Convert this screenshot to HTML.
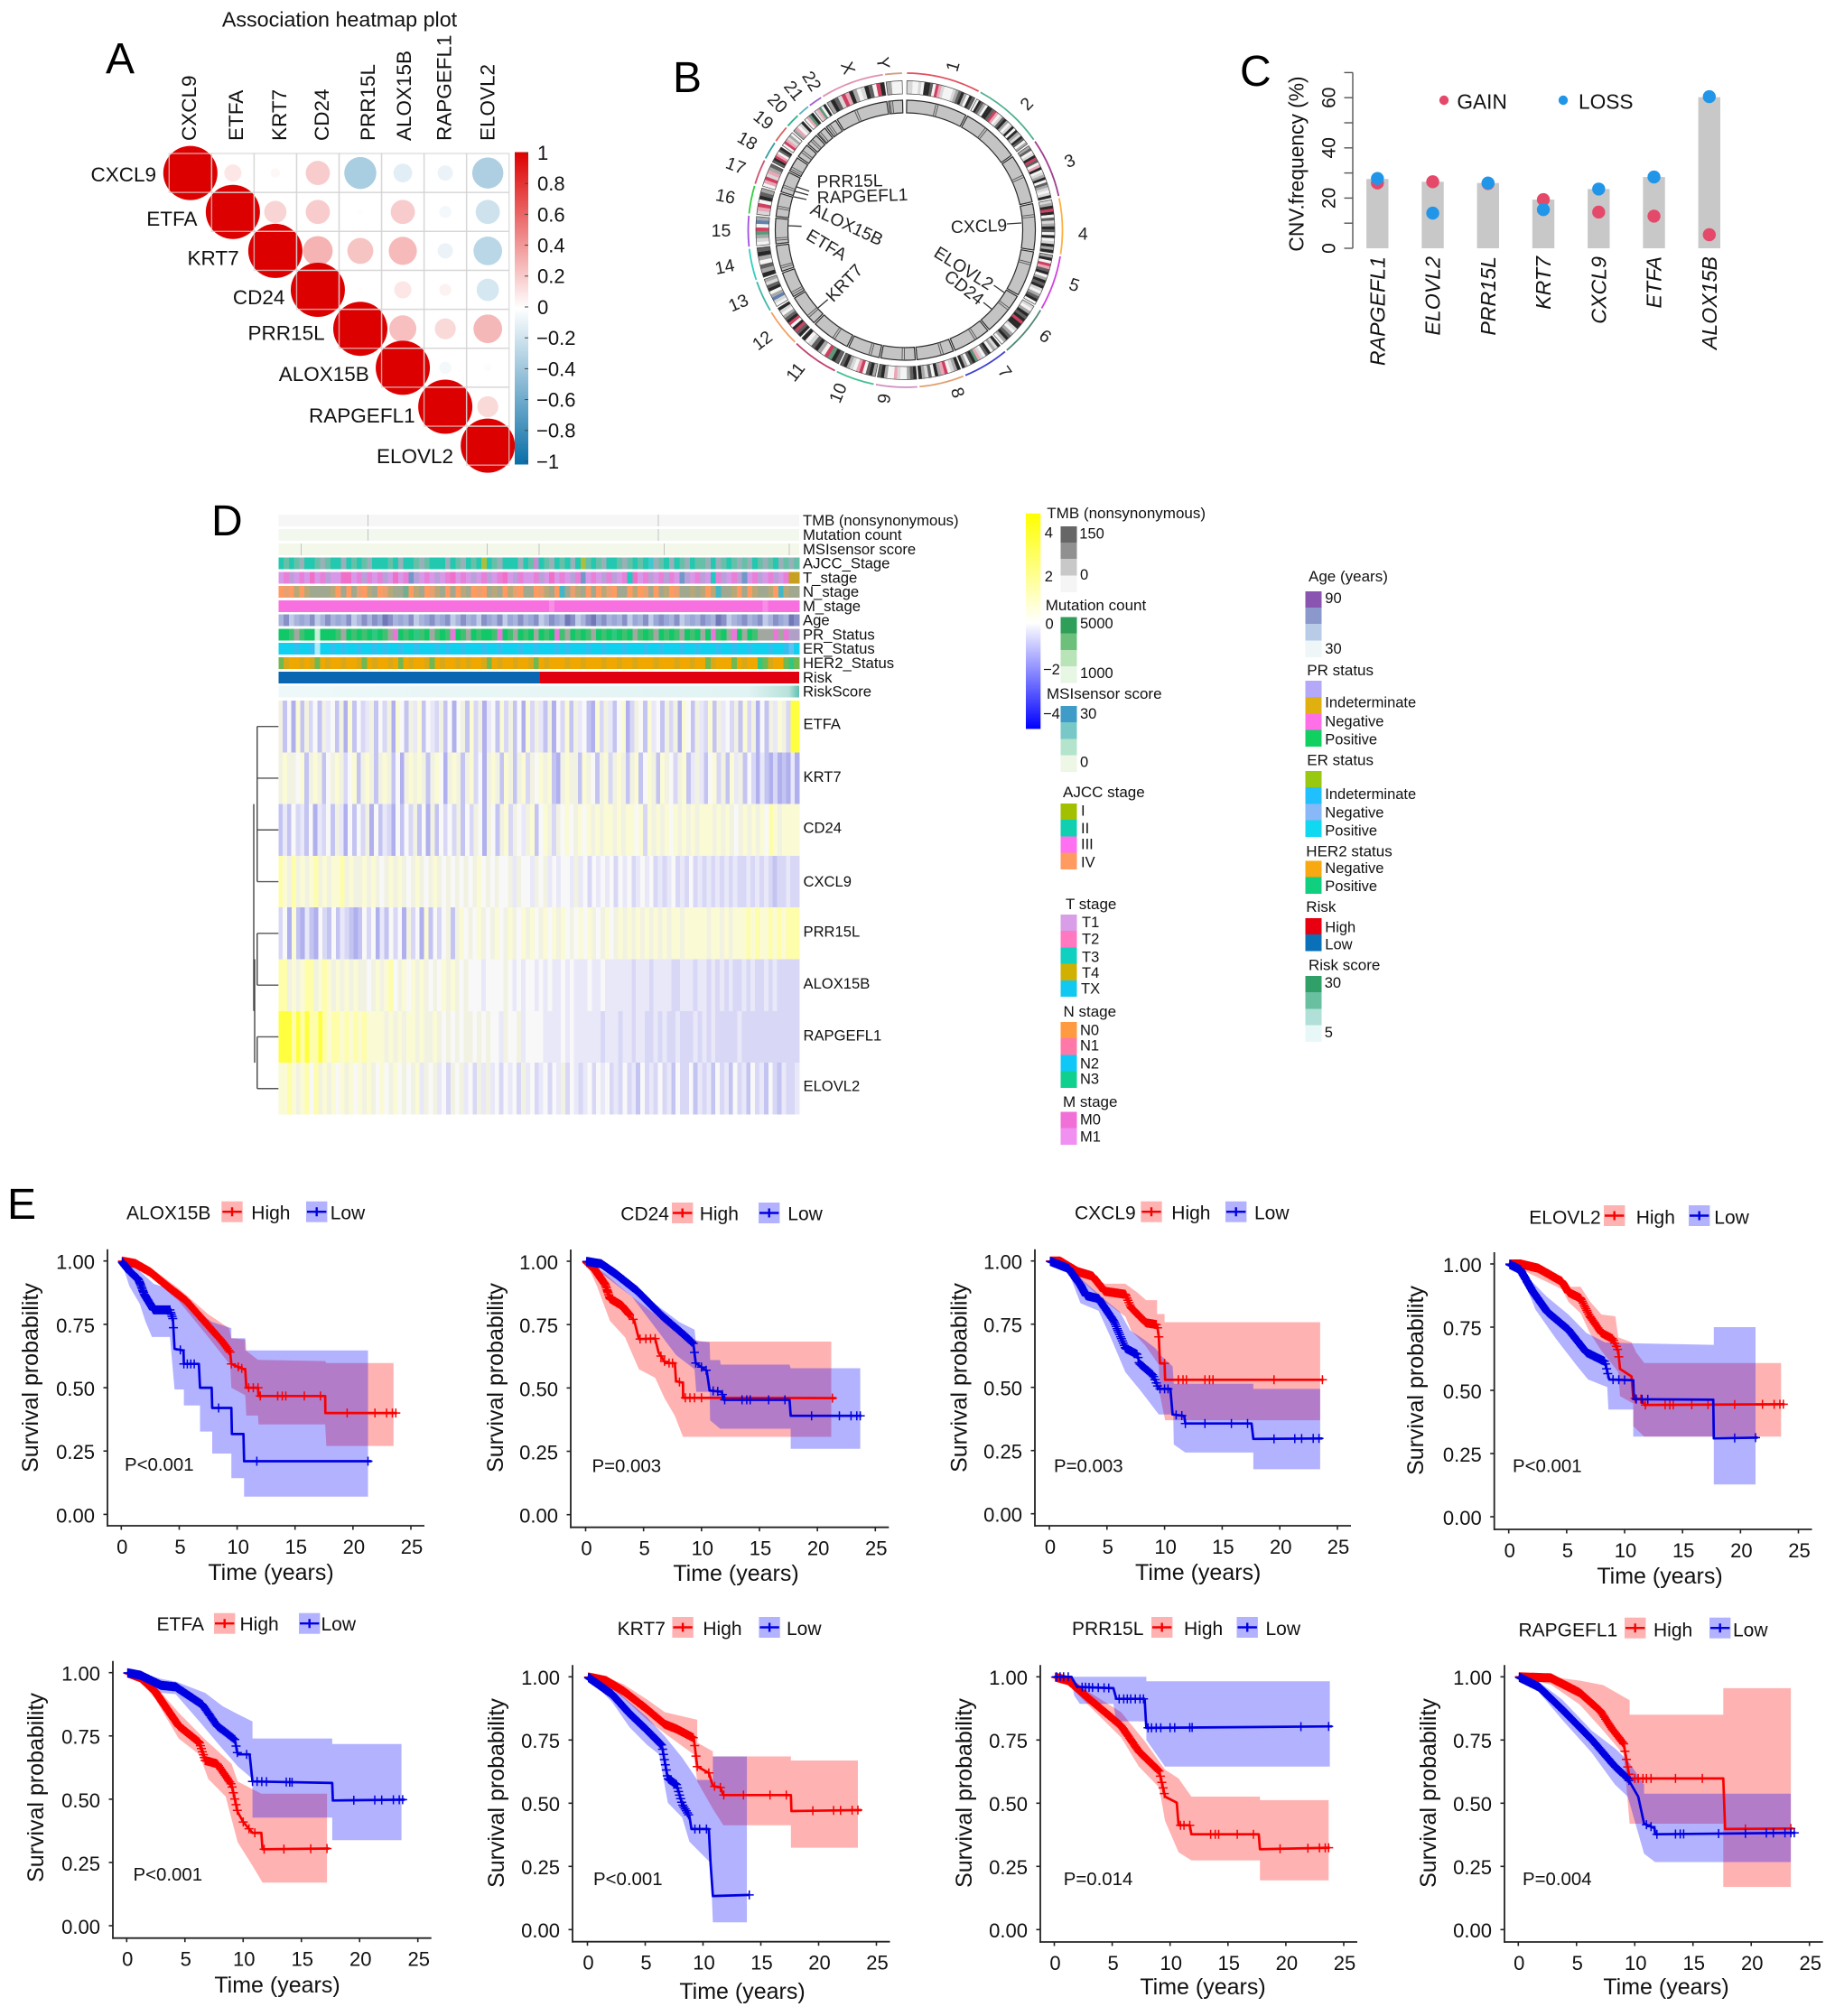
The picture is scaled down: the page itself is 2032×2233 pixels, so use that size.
<!DOCTYPE html>
<html>
<head>
<meta charset="utf-8">
<title>Gene signature multi-panel figure</title>
<style>
html,body{margin:0;padding:0;background:#fff}
svg{display:block;font-family:"Liberation Sans",sans-serif}
</style>
</head>
<body>
<svg id="figure" xmlns="http://www.w3.org/2000/svg" width="2032" height="2233" viewBox="0 0 2032 2233">
  <rect width="2032" height="2233" fill="#fff"/>
  <defs>
    <linearGradient id="corrGradient" x1="0" y1="0" x2="0" y2="1">
      <stop offset="0" stop-color="#dd0000"/><stop offset="0.5" stop-color="#ffffff"/><stop offset="1" stop-color="#0a6fa8"/>
    </linearGradient>
    <linearGradient id="exprGradient" x1="0" y1="0" x2="0" y2="1">
      <stop offset="0" stop-color="#ffff00"/><stop offset="0.508" stop-color="#ffffff"/><stop offset="1" stop-color="#0000ff"/>
    </linearGradient>
    <linearGradient id="riskScoreGradient" x1="0" y1="0" x2="1" y2="0">
      <stop offset="0" stop-color="#eef8f8"/><stop offset="0.9" stop-color="#e2f3f3"/><stop offset="0.98" stop-color="#b8e2da"/><stop offset="1" stop-color="#60c0b0"/>
    </linearGradient>
  </defs>
  <text x="117" y="81" font-size="48" fill="#000">A</text>
  <text x="745" y="102" font-size="48" fill="#000">B</text>
  <text x="1373" y="95" font-size="48" fill="#000">C</text>
  <text x="234" y="593" font-size="48" fill="#000">D</text>
  <text x="8" y="1350" font-size="48" fill="#000">E</text>
</svg>
<script>
/* ---------- Panel A data ---------- */
const corrGenes = ['CXCL9','ETFA','KRT7','CD24','PRR15L','ALOX15B','RAPGEFL1','ELOVL2'];
const corrRow0 = [1,0.10,0.03,0.20,-0.35,-0.12,-0.08,-0.33];
const corrRow1 = [1,0.17,0.20,0.01,0.20,-0.05,-0.20];
const corrRow2 = [1,0.30,0.23,0.27,-0.08,-0.28];
const corrRow3 = [1,0.01,0.10,0.05,-0.17];
const corrRow4 = [1,0.25,0.15,0.28];
const corrRow5 = [1,-0.05,-0.02];
const corrRow6 = [1,0.15];
const corrRow7 = [1];
const corrBarTicks = ['1','0.8','0.6','0.4','0.2','0','\u22120.2','\u22120.4','\u22120.6','\u22120.8','\u22121'];

/* ---------- Panel B data ---------- */
const chrNames = ['1','2','3','4','5','6','7','8','9','10','11','12','13','14','15','16','17','18','19','20','21','22','X','Y'];
const chrEndAngles = [28,55,77.6,99,120,140,157.7,175,191,206,224,238.7,251,263.4,275.5,286.6,296.6,304,311,317,322,327.8,352,359];
const chrLabelAngles = [16,43.7,67,91,107.8,127,144.8,162,187.3,202.6,217.9,232.5,246.6,258.7,270,280.8,291,299.7,308,315,321.5,328,340.7,352.6];
const chrLabelRadii = [189,194,197.6,196.8,196.7,194.5,191.8,189,188,195,198.6,200,201.6,204,204,202.6,201,201,199,199.6,197.8,195,190.6,187];
const chrCentromeres = [.5,.38,.45,.26,.27,.35,.38,.31,.35,.3,.4,.27,.14,.16,.18,.4,.29,.22,.45,.44,.25,.3,.39,.2];
const chrArcColors = ['#e05060','#50b090','#a04090','#ffb040','#d040e0','#508870','#4040d0','#e0a070','#d090c0','#40c090','#c04070','#f0a060','#40b8a8','#30d0c0','#a050e0','#30d040','#d05070','#30a0a0','#d86060','#30b090','#60b0c0','#a060d0','#e090b0','#d0a080'];
const chrBands = ['llwwlwkkdwrplwwwlmdkmwkd','wkdmwkkdrpwldkmwlkwkmlkdwm','mdwlkrdwpkwlmkwdmlwlk','lmkrkwdlmkdwkwlkmk','mkwrpdkwmkdklwmdkw','lwmkdkrkklwmdkmw','klmwkdwlpgkdwmk','kmlwrpmkwdlmk','kdmwwlpwwmkd','mkdwrpwlmkd','dkgrwmkdlwk','kdrkwrkdmwlk','wlbmwkdlm','kmdwmkd','wlmgrwbm','lprwkdm','wprlpmd','dkrpwdk','wrplmw','mpwlk','wpgk','lpgwk','mkdlrpkmwlkdwrk','mww'];

/* ---------- Panel C data ---------- */
const cnvGenes = ['RAPGEFL1','ELOVL2','PRR15L','KRT7','CXCL9','ETFA','ALOX15B'];
const cnvBarValues = [27.6,26.5,26,19.4,23.6,28.4,60.2];
const cnvGain = [26,26.5,25.8,19.4,14.4,12.8,5.4];
const cnvLoss = [27.8,14,26,15.4,23.6,28.4,60.4];
const cnvTicks = [0,10,20,30,40,50,60,70];
const cnvTickLabels = ['0','','20','','40','','60',''];

/* ---------- Panel D data ---------- */
const heatGenes = ['ETFA','KRT7','CD24','CXCL9','PRR15L','ALOX15B','RAPGEFL1','ELOVL2'];
const heatEtfa = '514061524153415061423514250641536143251404516250341625140625315042615341062531460254163415250641532615342516250415365288';
const heatKrt7 = '565546156514565246156515651405656515640565156240565165156254656105655165415625651561465165425613531462516351420310201030';
const heatCd24 = '131423140324153041425041320414251405142425142540541562543561465254645646565665656646265656465656566656565456565647656666';
const heatCxcl9 = '7657565675656675655656545656545654565454545456454544535443545343443534243434243423434232342324232323232322323232122322';
const heatPrr15l = '2406103104214132101424031424052406142451564546545645654656456465645464654564565656565656566566666566565666767667676777';
const heatAlox15b = '7756567756765656565545656745646565454656545444344445434344343433434333433433333323332333322333233232323223232232322222';
const heatRapgefl1 = '8887878778767767676766665656566565565454545545454435445344443333434333333233323323322323223222323232222232222222222222';
const heatElovl2 = '6676567475656465646565464564545635453425453425353424342534234243524323424342324231423242314224132314231423142314213223';
const trackAjcc = '0101200121002010120001020012100020120103012000201401201020310120012101052102012011202101212012102121';
const trackTStage = '0120103012003301210120301420102013010201201302100120301021401021201630120121042012061201240120120155';
const trackNStage = '0301012222102023012031226012031202012030212013022031204231202013022010320210322121014221020122104122';
const trackMStage = '0000000000000000000000000000000000000000000000000000200000000000000000000000000000000000000002000000';
const trackAge = '0120301201030120101341030120310312010321301230103120130412014310301230123130120301304120310312013041';
const trackPr = '0012100400012010105012301051021013012010013012010201031201012010501021012010120102031023020122232366';
const trackEr = '0001001300101001001010010010001010010001001000100100010100010010001000100100010010001001001000100120';
const trackHer2 = '2100101201001001201001020100120100101001201001001201000100100010010010001000100100210002010032100232';
const riskLowFraction = 0.502;
const tmbSpikes = [0.171,0.729];
const mutationSpikes = [0.171,0.729];
const msiSpikes = [0.043,0.4,0.5,0.74,0.98];

/* ---------- Panel E data (time in years, survival probability) ---------- */
const kmXTicks = [0,5,10,15,20,25];
const kmYTicks = [0,0.25,0.5,0.75,1];
const kmYTickLabels = ['0.00','0.25','0.50','0.75','1.00'];
const censorDense = [0.1,0.2,0.3,0.38,0.47,0.55,0.66,0.74,0.83,0.95,1.05,1.13,1.24,1.33,1.42,1.55,1.63,1.74,1.85,1.93,2.05,2.14,2.26,2.35,2.47,2.56,2.68,2.77,2.88,3,3.1,3.22,3.33,3.45,3.54,3.66,3.78,3.9,4.02,4.13,4.27,4.38,4.5,4.64,4.76,4.88,5.02,5.15,5.3,5.44,5.58,5.72,5.88,6.02,6.18,6.33,6.5,6.66,6.82,7,7.15,7.33,7.5,7.7,7.88,8.06,8.25,8.45,8.65,8.85,9.05,9.28,9.5];
const censorDenseExtra = [0.15,0.25,0.34,0.43,0.51,0.6,0.7,0.79,0.89,1,1.09,1.18,1.28,1.37,1.48,1.59,1.68,1.79,1.89,1.99,2.09,2.2,2.3,2.41,2.51,2.62,2.72,2.82,2.94,3.05,3.16,3.27,3.39,3.5,3.6,3.72,3.84,3.96,4.07,4.2,4.32,4.44,4.57,4.7,4.82,4.95,5.08,5.22,5.37,5.51,5.65,5.8,5.95,6.1,6.25,6.41,6.58,6.74,6.91,7.07,7.24,7.41,7.6,7.79,7.97,8.15,8.35,8.55,8.75,8.95,9.16,9.39];

const alox15bHighCurve = [[0,1],[1.2,.99],[2.5,.956],[4.07,.897],[5.6,.843],[7.2,.76],[8.7,.683],[9.4,.64],[9.5,.594],[10.7,.57],[10.8,.5],[11.8,.5],[11.85,.467],[17.6,.467],[17.62,.4],[23.8,.4]];
const alox15bHighUpper = [[0,1],[2.5,.975],[5,.89],[7.5,.79],[9.3,.735],[9.5,.695],[10.7,.69],[10.8,.645],[11.8,.61],[17.6,.605],[17.7,.597],[23.5,.597]];
const alox15bHighLower = [[0,1],[2.5,.94],[5,.84],[7.5,.7],[9.4,.59],[9.5,.5],[10.7,.47],[10.8,.39],[11.8,.39],[11.85,.355],[17.6,.355],[17.7,.27],[23.5,.27]];
const alox15bHighCensor = [10.1,10.4,11,11.4,11.8,12,13.5,13.9,14.2,15.8,17.2,19.5,21.9,22.9,23.4,23.7];
const alox15bLowCurve = [[0,1],[.7,.96],[1.5,.926],[2,.867],[2.8,.807],[4.2,.807],[4.46,.77],[4.6,.653],[5.37,.647],[5.4,.594],[6.7,.594],[6.8,.5],[7.8,.5],[7.85,.42],[9.5,.42],[9.55,.317],[10.55,.317],[10.6,.21],[21.6,.21]];
const alox15bLowUpper = [[0,1],[1,.985],[2.8,.91],[4.2,.89],[5,.86],[6,.82],[7.8,.76],[9.5,.735],[9.5,.695],[10.7,.695],[10.7,.647],[21.3,.647]];
const alox15bLowLower = [[0,1],[.7,.9],[1.6,.83],[2.1,.76],[2.65,.7],[4.2,.7],[4.6,.493],[5.4,.493],[5.4,.43],[6.8,.43],[6.8,.327],[7.85,.327],[7.85,.24],[9.5,.24],[9.5,.143],[10.6,.143],[10.6,.07],[21.3,.07]];
const alox15bLowCensor = [5.1,5.4,5.7,6,6.3,8.4,11.7,21.3];

const cd24HighCurve = [[0,1],[.8,.967],[1.7,.907],[2.1,.853],[3.15,.824],[4.2,.765],[4.6,.693],[6,.695],[6.3,.64],[6.9,.598],[7.7,.598],[7.8,.527],[8.4,.52],[8.42,.461],[21.6,.46]];
const cd24HighUpper = [[0,1],[1.7,.95],[4,.86],[6,.79],[8,.72],[9.8,.683],[21.2,.683]];
const cd24HighLower = [[0,1],[1,.9],[2.1,.765],[3.4,.7],[4.6,.574],[6,.54],[6.8,.46],[7.7,.39],[8.4,.307],[21.2,.307]];
const cd24HighCensor = [4.1,4.7,5.2,5.6,6,6.5,6.8,7.2,7.5,8.1,8.6,9,9.4,10,21.3];
const cd24LowCurve = [[0,1],[1.33,.99],[2.6,.95],[4.45,.883],[6.5,.788],[8.6,.705],[9.3,.675],[9.5,.598],[10.45,.568],[10.7,.49],[11.75,.485],[11.9,.453],[17.6,.453],[17.7,.39],[23.8,.39]];
const cd24LowUpper = [[0,1],[4,.9],[8.1,.76],[9.4,.73],[9.5,.687],[10.7,.68],[10.75,.61],[11.6,.61],[11.65,.592],[17.6,.592],[17.7,.578],[23.7,.578]];
const cd24LowLower = [[0,1],[4,.86],[7.8,.63],[9.4,.574],[9.55,.485],[10.7,.485],[10.75,.372],[11.6,.339],[17.7,.339],[17.7,.26],[23.7,.26]];
const cd24LowCensor = [10,10.4,11,11.4,11.8,12,13.5,13.9,14.2,15.8,17.2,19.5,21.9,22.9,23.4,23.7];

const cxcl9HighCurve = [[0,1],[.9,1],[2.45,.958],[3.75,.94],[4.8,.88],[6.6,.868],[7.1,.815],[8.4,.755],[9.35,.748],[9.5,.7],[9.6,.595],[10,.595],[10.05,.53],[23.8,.53]];
const cxcl9HighUpper = [[0,1],[1,1],[2.4,.97],[4.8,.91],[6.6,.91],[7.65,.875],[8.4,.845],[9.35,.845],[9.35,.79],[10,.79],[10,.758],[23.5,.758]];
const cxcl9HighLower = [[0,1],[2.4,.94],[4.8,.84],[6.6,.78],[7.1,.725],[8.3,.667],[9.5,.59],[9.55,.48],[10.05,.37],[23.5,.37]];
const cxcl9HighCensor = [9.5,10,11.2,11.6,11.9,13.5,13.9,14.2,19.5,23.7];
const cxcl9LowCurve = [[0,1],[1.67,.97],[2.7,.905],[3.2,.863],[4.27,.851],[5.6,.762],[6.6,.655],[7.65,.63],[7.8,.595],[9,.548],[9.5,.494],[10.5,.494],[10.7,.393],[11.7,.387],[11.8,.357],[17.55,.357],[17.7,.296],[23.7,.298]];
const cxcl9LowUpper = [[0,1],[1.67,.985],[3,.92],[5,.84],[6.1,.8],[7,.726],[8.2,.69],[9.2,.655],[9.7,.625],[10.7,.583],[10.8,.514],[17.7,.514],[17.7,.494],[23.5,.494]];
const cxcl9LowLower = [[0,1],[1.67,.955],[2.7,.833],[4.27,.803],[5.3,.7],[6.6,.56],[7.9,.488],[9.5,.393],[10.75,.393],[10.8,.274],[11.8,.242],[17.7,.242],[17.7,.176],[23.5,.176]];
const cxcl9LowCensor = [9.6,10,10.3,11,11.5,11.8,13.5,15.8,17.2,19.5,21.3,21.9,22.9,23.4];

const elovl2HighCurve = [[0,1],[1,1],[2.55,.983],[4.6,.93],[5.15,.888],[6.2,.864],[7,.793],[8,.727],[9,.703],[9.45,.656],[9.6,.585],[10.6,.555],[10.75,.47],[11.5,.465],[11.7,.442],[23.8,.445]];
const elovl2HighUpper = [[0,1],[1,1],[4.6,.95],[5.15,.91],[6.2,.91],[7,.853],[8,.8],[9.2,.793],[9.45,.71],[10.6,.69],[11,.65],[11.7,.608],[23.5,.608]];
const elovl2HighLower = [[0,1],[1,.98],[4.6,.9],[5.15,.85],[6.2,.805],[7,.727],[8,.656],[9.45,.573],[9.6,.477],[10.75,.448],[10.75,.358],[11.7,.317],[23.5,.317]];
const elovl2HighCensor = [10.9,11.4,11.8,13.5,13.9,14.2,15.8,17.2,19.5,21.9,22.9,23.4,23.7];
const elovl2LowCurve = [[0,1],[1,.977],[2.03,.894],[3.33,.81],[5.15,.74],[6.7,.65],[8.3,.614],[8.67,.543],[10.75,.54],[10.8,.465],[17.65,.463],[17.7,.31],[21.5,.313]];
const elovl2LowUpper = [[0,1],[1,.99],[2,.93],[3.3,.87],[5.15,.8],[6.7,.727],[8.3,.69],[10.75,.686],[17.7,.68],[17.7,.75],[21.3,.75]];
const elovl2LowLower = [[0,1],[1,.96],[2,.855],[2.3,.82],[4.1,.703],[5.9,.596],[6.85,.543],[8.5,.513],[8.6,.424],[10.75,.424],[10.75,.317],[17.7,.317],[17.7,.128],[21.3,.128]];
const elovl2LowCensor = [9,9.5,10,11,11.5,12,19.5,21.3];

const etfaHighCurve = [[0,1],[1.17,.98],[2.43,.926],[4.46,.79],[6.24,.724],[6.74,.653],[7.76,.64],[9,.558],[9.53,.45],[10,.41],[10.8,.367],[11.56,.367],[11.66,.302],[17.4,.305]];
const etfaHighUpper = [[0,1],[1.17,.99],[2.4,.95],[4.5,.84],[6.74,.736],[9,.64],[9.53,.57],[11.56,.522],[17.2,.522]];
const etfaHighLower = [[0,1],[1.17,.965],[2.4,.9],[4.46,.74],[6.24,.676],[7,.58],[8.5,.51],[9.53,.33],[10.8,.237],[11.66,.17],[17.2,.17]];
const etfaHighCensor = [10,10.5,11,11.8,13.5,15.8,17.2];
const etfaLowCurve = [[0,1],[1.17,.99],[2.94,.95],[4.2,.944],[6.5,.873],[7.76,.79],[9.28,.736],[9.53,.677],[10.55,.677],[10.8,.57],[17.65,.564],[17.7,.495],[23.9,.498]];
const etfaLowUpper = [[0,1],[1.17,1],[3,.975],[4.2,.965],[6.74,.92],[8.26,.867],[9.5,.837],[10.8,.807],[10.8,.74],[17.65,.74],[17.65,.718],[23.6,.718]];
const etfaLowLower = [[0,1],[3,.92],[4.2,.915],[6.24,.807],[7.76,.724],[9.53,.63],[10.8,.58],[10.8,.427],[17.65,.427],[17.65,.338],[23.6,.338]];
const etfaLowCensor = [10.3,10.8,11.2,11.6,12,13.7,14,14.2,19.5,21.3,21.9,22.9,23.4,23.7];

const krt7HighCurve = [[0,1],[1.6,.985],[3.14,.943],[5.17,.871],[6.7,.812],[7.7,.794],[9.2,.758],[9.5,.645],[10.5,.62],[10.85,.568],[11.5,.562],[11.76,.532],[17.6,.532],[17.65,.469],[23.7,.473]];
const krt7HighUpper = [[0,1],[1.6,1],[3.14,.97],[5.17,.91],[6.7,.86],[9.5,.83],[9.5,.74],[10.85,.705],[10.85,.685],[17.6,.685],[17.6,.669],[23.4,.669]];
const krt7HighLower = [[0,1],[1.6,.97],[3.14,.915],[5.17,.83],[6.7,.776],[9.2,.693],[9.5,.586],[10.85,.478],[11.76,.413],[17.6,.413],[17.6,.324],[23.4,.324]];
const krt7HighCensor = [10.5,11,11.5,11.8,13.5,15.8,17.2,19.5,21.3,21.9,22.9,23.4];
const krt7LowCurve = [[0,1],[2.13,.931],[3.65,.854],[5.17,.788],[6.44,.729],[6.95,.598],[7.7,.574],[8.2,.496],[8.82,.449],[9,.398],[10.5,.398],[10.65,.264],[10.85,.133],[14,.137]];
const krt7LowUpper = [[0,1],[2.13,.96],[3.65,.9],[5.17,.84],[6.7,.764],[8.2,.68],[9.5,.592],[10.85,.592],[10.85,.685],[13.8,.685]];
const krt7LowLower = [[0,1],[2.13,.9],[3.65,.8],[5.17,.73],[6.2,.693],[6.95,.502],[8.2,.443],[8.82,.348],[10.65,.264],[10.85,.029],[13.8,.029]];
const krt7LowCensor = [9.3,9.7,10.3,14];

const prr15lHighCurve = [[0,1],[1.2,.985],[3,.913],[5.77,.806],[7.3,.705],[9.06,.627],[9.56,.526],[10.58,.502],[10.73,.413],[11.7,.413],[11.84,.377],[17.66,.377],[17.76,.318],[23.8,.324]];
const prr15lHighUpper = [[0,1],[1.2,1],[3,.94],[5.77,.86],[7.8,.746],[9.56,.633],[10.73,.598],[11.84,.526],[17.76,.526],[17.76,.512],[23.7,.512]];
const prr15lHighLower = [[0,1],[1.2,.97],[3,.885],[5.77,.76],[7.3,.645],[9.06,.562],[9.56,.43],[10.73,.306],[11.84,.274],[17.76,.274],[17.76,.195],[23.7,.195]];
const prr15lHighCensor = [10.9,11.2,11.7,13.5,13.9,14.2,15.8,17.2,19.5,21.9,22.9,23.4,23.7];
const prr15lLowCurve = [[0,1],[1.47,1],[1.97,.96],[5.1,.955],[5.36,.913],[7.8,.913],[7.95,.798],[24,.804]];
const prr15lLowUpper = [[0,1],[7.95,1],[7.95,.982],[23.8,.982]];
const prr15lLowLower = [[0,1],[1.47,.98],[1.72,.925],[2.2,.893],[5.1,.893],[5.36,.824],[7.95,.824],[7.95,.75],[9.56,.645],[23.8,.645]];
const prr15lLowCensor = [0.2,0.5,0.8,1.2,2.4,2.7,3,3.3,3.8,4.3,4.7,5.6,6,6.3,6.6,7,7.4,7.7,8.1,8.4,8.8,9.2,10,10.4,11.7,11.9,21.3,23.7];

const rapgefl1HighCurve = [[0,1],[2.77,.996],[5.28,.937],[7.04,.865],[8.05,.794],[9.05,.735],[9.56,.598],[17.6,.598],[17.76,.398],[23.6,.4]];
const rapgefl1HighUpper = [[0,1],[2.77,1],[5.28,.985],[7.3,.967],[9.56,.907],[9.56,.85],[17.6,.85],[17.6,.955],[23.4,.955]];
const rapgefl1HighLower = [[0,1],[2.77,.97],[5.28,.89],[7.04,.8],[9.05,.693],[9.56,.419],[17.6,.419],[17.6,.169],[23.4,.169]];
const rapgefl1HighCensor = [10,10.3,10.7,11,11.4,13.5,15.8,19.5,23.4];
const rapgefl1LowCurve = [[0,1],[1.76,.96],[3.77,.871],[6.3,.752],[8.3,.645],[9.4,.598],[10.3,.526],[10.8,.419],[11.7,.401],[11.75,.377],[23.8,.383]];
const rapgefl1LowUpper = [[0,1],[1.76,.98],[3.77,.91],[6.3,.788],[8.3,.717],[9.4,.669],[10.8,.574],[10.8,.538],[23.4,.538]];
const rapgefl1LowLower = [[0,1],[1.76,.94],[3.77,.83],[6.3,.7],[8.3,.574],[9.4,.526],[10.8,.3],[11.75,.267],[23.4,.267]];
const rapgefl1LowCensor = [11,11.4,11.9,13.5,13.9,14.2,17.2,19.5,21.3,21.9,22.9,23.4,23.7];

/* ---------- helpers ---------- */
const NS = 'http://www.w3.org/2000/svg';
const svg = document.getElementById('figure');
function mk(tag, attrs, parent) {
  const el = document.createElementNS(NS, tag);
  for (const k in attrs) el.setAttribute(k, attrs[k]);
  (parent || svg).appendChild(el);
  return el;
}
function txt(parent, x, y, str, size, opt) {
  opt = opt || {};
  const a = { x: x, y: y + (opt.center === false ? 0 : size * 0.36), 'font-size': size, fill: opt.fill || '#111' };
  if (opt.anchor) a['text-anchor'] = opt.anchor;
  if (opt.italic) a['font-style'] = 'italic';
  if (opt.rotate !== undefined) a.transform = 'rotate(' + opt.rotate + ' ' + x + ' ' + y + ')';
  const t = mk('text', a, parent);
  t.textContent = str;
  return t;
}
function mixColor(c, f) {
  const r = parseInt(c.slice(1, 3), 16), g = parseInt(c.slice(3, 5), 16), b = parseInt(c.slice(5, 7), 16);
  const m = v => Math.round(255 - (255 - v) * f);
  return 'rgb(' + m(r) + ',' + m(g) + ',' + m(b) + ')';
}

/* ---------- Panel A ---------- */
(function () {
  const g = mk('g', {});
  
  
  const rows = [corrRow0, corrRow1, corrRow2, corrRow3, corrRow4, corrRow5, corrRow6, corrRow7];
  const colX = i => 210.8 + 47.05 * i;
  const rowY = i => 191.6 + 43.15 * i;
  const rad = v => 30 * Math.sqrt(Math.abs(v));
  const col = v => v >= 0 ? mixColor('#dd0000', v) : mixColor('#0a6fa8', -v);
  rows.forEach((row, i) => {
    row.forEach((v, k) => {
      const j = i + k;
      const cell = mk('rect', { x: colX(j) - 23.5, y: rowY(i) - 21.6, width: 47.05, height: 43.15, fill: '#fff', stroke: 'none' }, g);
      
      
    });
  });
  rows.forEach((row, i) => {
    row.forEach((v, k) => {
      const j = i + k;
      const c = mk('circle', { cx: colX(j), cy: rowY(i), r: rad(v), fill: col(v) }, g);
      
      
    });
  });
  rows.forEach((row, i) => {
    row.forEach((v, k) => {
      const j = i + k;
      const ln = mk('rect', { x: colX(j) - 23.5, y: rowY(i) - 21.6, width: 47.05, height: 43.15, fill: 'none', stroke: '#d4d4d4', 'stroke-width': 1.4, 'stroke-opacity': 0.75 }, g);
      
      
    });
  });
  const colLabelX = [216.8, 268.8, 316.8, 364, 415, 455, 499.5, 547.6];
  const rowLabelEndX = [173, 218.5, 264.6, 315.4, 359.6, 408.8, 459.6, 502];
  const rowLabelY = [193, 242, 285.6, 328.8, 368.6, 414, 460, 504.7];
  corrGenes.forEach((name, i) => {
    const top = txt(g, colLabelX[i], 156, name, 22.5, { rotate: -90, center: false });
    
    
    const side = txt(g, rowLabelEndX[i], rowLabelY[i], name, 22.5, { anchor: 'end' });
    
    
  });
  const title = txt(g, 376, 21, 'Association heatmap plot', 23.3, { anchor: 'middle' });
  
  
  const bar = mk('rect', { x: 570, y: 168.5, width: 15, height: 346, fill: 'url(#corrGradient)' }, g);
  
  
  corrBarTicks.forEach((label, i) => {
    const y = 169 + 34.2 * i;
    const tk = mk('line', { x1: 581, x2: 585, y1: y, y2: y, stroke: '#444', 'stroke-width': 1 }, g);
    
    
    const lb = txt(g, label.charAt(0) === '\u2212' ? 594 : 595, y, label, 22, {});
    
    
  });
})();

/* ---------- Panel B ---------- */
(function () {
  const g = mk('g', {});
  
  
  const cx = 1002.5, cy = 255;
  const pt = (r, deg) => {
    const a = deg * Math.PI / 180;
    return [cx + r * Math.sin(a), cy - r * Math.cos(a)];
  };
  const sector = (r0, r1, a0, a1) => {
    const p1 = pt(r1, a0), p2 = pt(r1, a1), p3 = pt(r0, a1), p4 = pt(r0, a0);
    const lg = a1 - a0 > 180 ? 1 : 0;
    return 'M' + p1.join(' ') + 'A' + r1 + ' ' + r1 + ' 0 ' + lg + ' 1 ' + p2.join(' ') + 'L' + p3.join(' ') + 'A' + r0 + ' ' + r0 + ' 0 ' + lg + ' 0 ' + p4.join(' ') + 'Z';
  };
  const bandColors = { w: '#f4f4f4', l: '#d8d8d8', m: '#a8a8a8', d: '#606060', k: '#282828', r: '#cf4060', p: '#eaa6b6', g: '#5a9a7a', b: '#6080b0' };
  chrNames.forEach((name, i) => {
    const a0 = i === 0 ? 0.6 : chrEndAngles[i - 1] + 0.6;
    const a1 = chrEndAngles[i] - 0.2;
    const p1 = pt(174, a0), p2 = pt(174, a1);
    const arc = mk('path', { d: 'M' + p1.join(' ') + 'A174 174 0 0 1 ' + p2.join(' '), fill: 'none', stroke: chrArcColors[i], 'stroke-width': 1.8 }, g);
    
    
    const bands = chrBands[i];
    const step = (a1 - a0) / bands.length;
    for (let b = 0; b < bands.length; b++) {
      const seg = mk('path', { d: sector(151, 165.5, a0 + b * step, a0 + (b + 1) * step + 0.05), fill: bandColors[bands[b]] }, g);
      
      
    }
    const outline = mk('path', { d: sector(151, 165.5, a0, a1), fill: 'none', stroke: '#444', 'stroke-width': 0.7 }, g);
    
    
    const inner = mk('path', { d: sector(130, 144, a0, a1), fill: '#c4c4c4', stroke: '#2a2a2a', 'stroke-width': 1.2 }, g);
    
    
    const cen = a0 + (a1 - a0) * chrCentromeres[i];
    [-0.5, 0.5].forEach(d => {
      const q1 = pt(130, cen + d), q2 = pt(144, cen + d);
      const ln = mk('line', { x1: q1[0], y1: q1[1], x2: q2[0], y2: q2[1], stroke: '#555', 'stroke-width': 0.9 }, g);
      
      
    });
    const ang = chrLabelAngles[i];
    const lp = pt(chrLabelRadii[i], ang);
    const rot = ang < 180 ? ang - 90 : ang - 270;
    const lab = mk('text', { x: lp[0], y: lp[1] + 7, 'font-size': 19.5, fill: '#222', 'text-anchor': 'middle', transform: 'rotate(' + rot + ' ' + lp[0] + ' ' + lp[1] + ')' }, g);
    lab.textContent = name;
    
    
  });
  const geneLabels = [
    ['CXCL9', 1084, 250, -2], ['ELOVL2', 1067.5, 296.7, 32], ['CD24', 1068, 318, 38], ['KRT7', 934.6, 313, -46],
    ['ETFA', 915.6, 270.7, 31], ['ALOX15B', 938, 248, 25], ['RAPGEFL1', 955, 216.7, -2], ['PRR15L', 941, 200, -1]
  ];
  geneLabels.forEach(d => {
    const t = mk('text', { x: d[1], y: d[2] + 7, 'font-size': 19.3, fill: '#222', 'text-anchor': 'middle', transform: 'rotate(' + d[3] + ' ' + d[1] + ' ' + d[2] + ')' }, g);
    t.textContent = d[0];
    
    
  });
  const geneLinks = [
    [1115, 248, 1131, 247], [1100.5, 316, 1112, 324], [1089, 335, 1098.7, 342.7], [905, 341.7, 916.7, 331.7],
    [872.5, 250, 887.6, 250.7], [881.5, 206.7, 896, 211.7], [879.7, 211.7, 895, 216], [878, 217.7, 893, 221]
  ];
  geneLinks.forEach(d => {
    const l = mk('line', { x1: d[0], y1: d[1], x2: d[2], y2: d[3], stroke: '#333', 'stroke-width': 1.3 }, g);
    
    
  });
})();

/* ---------- Panel C ---------- */
(function () {
  const g = mk('g', {});
  
  
  const yScale = v => 275 - v * 2.78;
  const xScale = i => 1525.3 + 61.25 * i;
  cnvGenes.forEach((name, i) => {
    const b = mk('rect', { x: xScale(i) - 12.2, y: yScale(cnvBarValues[i]), width: 24.4, height: 275 - yScale(cnvBarValues[i]), fill: '#c8c8c8' }, g);
    
    
  });
  cnvGenes.forEach((name, i) => {
    const gain = mk('circle', { cx: xScale(i), cy: yScale(cnvGain[i]), r: 7.2, fill: '#e5496a' }, g);
    
    
    const loss = mk('circle', { cx: xScale(i), cy: yScale(cnvLoss[i]), r: 7.2, fill: '#2196e8' }, g);
    
    
    const lab = txt(g, xScale(i) + 8, 284, name, 23.2, { rotate: -90, center: false, anchor: 'end', italic: true });
    
    
  });
  const axis = mk('line', { x1: 1498, x2: 1498, y1: yScale(70), y2: yScale(0), stroke: '#555', 'stroke-width': 1.4 }, g);
  
  
  cnvTicks.forEach((v, i) => {
    const tk = mk('line', { x1: 1488.5, x2: 1498, y1: yScale(v), y2: yScale(v), stroke: '#555', 'stroke-width': 1.4 }, g);
    
    
    if (cnvTickLabels[i]) {
      const tl = txt(g, 1478.5, yScale(v), cnvTickLabels[i], 21, { rotate: -90, center: false, anchor: 'middle' });
      
      
    }
  });
  const yt = txt(g, 1443.5, 181.5, 'CNV.frequency (%)', 22.8, { rotate: -90, center: false, anchor: 'middle' });
  
  
  const d1 = mk('circle', { cx: 1599, cy: 111, r: 5.2, fill: '#e5496a' }, g);
  
  
  const t1 = txt(g, 1613.4, 112.5, 'GAIN', 22.7, {});
  
  
  const d2 = mk('circle', { cx: 1731, cy: 111, r: 5.2, fill: '#2196e8' }, g);
  
  
  const t2 = txt(g, 1748, 112.5, 'LOSS', 22.7, {});
  
  
})();

/* ---------- Panel D ---------- */
(function () {
  const g = mk('g', { 'shape-rendering': 'crispEdges' });
  
  
  const L = 308.3, R = 885, W = R - L;
  const trackTop = i => 570.2 + 15.78 * i;
  const trackH = 13;
  const drawTrack = (i, code, pal) => {
    const w = W / code.length;
    for (let c = 0; c < code.length; c++) {
      const r = mk('rect', { x: L + c * w, y: trackTop(i), width: w + 0.6, height: trackH, fill: pal[+code[c]] }, g);
      
      
    }
  };
  const drawSpikes = (i, bg, spikes) => {
    const r = mk('rect', { x: L, y: trackTop(i), width: W, height: trackH, fill: bg }, g);
    
    
    spikes.forEach(f => {
      const s = mk('rect', { x: L + f * W, y: trackTop(i), width: 1, height: trackH, fill: '#c4c4c4' }, g);
      
      
    });
  };
  drawSpikes(0, '#f6f6f6', tmbSpikes);
  drawSpikes(1, '#f2f8ee', mutationSpikes);
  drawSpikes(2, '#f3f8ea', msiSpikes);
  drawTrack(3, trackAjcc, ['#22c8b0', '#66c0a8', '#98b0b8', '#a8c040', '#c090d0', '#40c8d0']);
  drawTrack(4, trackTStage, ['#d898e8', '#e880d8', '#b8a0d8', '#f070c8', '#7098c8', '#c8a020', '#20c8c0']);
  drawTrack(5, trackNStage, ['#ff9a60', '#b8a878', '#a0a890', '#e8a070', '#40b8c8', '#ff8a70', '#70b090']);
  drawTrack(6, trackMStage, ['#f870e0', '#f890e8', '#f98ce6']);
  drawTrack(7, trackAge, ['#a8b4dc', '#8890c8', '#c0cce8', '#9aa8d8', '#7078b8']);
  drawTrack(8, trackPr, ['#10c868', '#40c070', '#a0a8a0', '#e878d8', '#c8f0d8', '#30c880', '#b0a0c8']);
  drawTrack(9, trackEr, ['#10d0f0', '#30c0f0', '#60c0f0', '#b0ecf8']);
  drawTrack(10, trackHer2, ['#f0a800', '#d8a818', '#70b850', '#30c880']);
  const rl = mk('rect', { x: L, y: trackTop(11), width: W * riskLowFraction, height: trackH, fill: '#0a66b0' }, g);
  
  
  const rh = mk('rect', { x: L + W * riskLowFraction, y: trackTop(11), width: W * (1 - riskLowFraction), height: trackH, fill: '#e00010' }, g);
  
  
  const rs = mk('rect', { x: L, y: trackTop(12), width: W, height: trackH, fill: 'url(#riskScoreGradient)' }, g);
  
  
  const trackNames = ['TMB (nonsynonymous)', 'Mutation count', 'MSIsensor score', 'AJCC_Stage', 'T_stage', 'N_stage', 'M_stage', 'Age', 'PR_Status', 'ER_Status', 'HER2_Status', 'Risk', 'RiskScore'];
  trackNames.forEach((n, i) => {
    const t = txt(svg, 889, trackTop(i) + 6, n, 16.7, {});
    
    
  });
  const heatPal = ['#b0b0ee', '#c4c4f2', '#d8d8f6', '#e8e8f9', '#f8f8f8', '#f2f2e2', '#fafad4', '#fdfdaa', '#ffff40'];
  const heatRows = [heatEtfa, heatKrt7, heatCd24, heatCxcl9, heatPrr15l, heatAlox15b, heatRapgefl1, heatElovl2];
  const heatTop = 776, heatH = 57.3;
  heatRows.forEach((code, i) => {
    const w = W / code.length;
    for (let c = 0; c < code.length; c++) {
      const r = mk('rect', { x: L + c * w, y: heatTop + i * heatH, width: w + 0.6, height: heatH, fill: heatPal[+code[c]] }, g);
      
      
    }
  });
  const labelY = [801.7, 860, 916.7, 976, 1031.7, 1089, 1146.7, 1202.7];
  heatGenes.forEach((n, i) => {
    const t = txt(svg, 889.5, labelY[i], n, 16.6, {});
    
    
    const stub = mk('line', { x1: 284.8, x2: 308.3, y1: heatTop + (i + 0.5) * heatH, y2: heatTop + (i + 0.5) * heatH, stroke: '#555', 'stroke-width': 1.4 }, svg);
    
    
  });
  const joins = [[0, 3, 284.8], [4, 5, 284.8], [6, 7, 284.8], [4.5, 6.5, 282], [1.5, 5.5, 281]];
  joins.forEach(j => {
    const v = mk('line', { x1: j[2], x2: j[2], y1: heatTop + (j[0] + 0.5) * heatH, y2: heatTop + (j[1] + 0.5) * heatH, stroke: '#444', 'stroke-width': 1.4 }, svg);
    
    
  });

  /* legends */
  const lg = mk('g', {});
  
  
  const bar = mk('rect', { x: 1136, y: 568.7, width: 16.3, height: 238.7, fill: 'url(#exprGradient)' }, lg);
  
  
  [['4', 589.8, 1156.7], ['2', 638, 1156.7], ['0', 690.4, 1157.5], ['\u22122', 741, 1155], ['\u22124', 790, 1155]].forEach(d => {
    const t = txt(lg, d[2], d[1], d[0], 16.5, {});
    
    
  });
  const blocks = [
    [1174.3, 'TMB (nonsynonymous)', 1159.3, 570, 582.8, ['#666666', '#909090', '#c8c8c8', '#f5f5f5'], [['150', 1195.3, 592], ['0', 1196, 637.5]]],
    [1174.3, 'Mutation count', 1157.7, 671.7, 683.4, ['#2e9e58', '#6cc07c', '#b8e4b8', '#e8f6e4'], [['5000', 1196, 691.8], ['1000', 1196, 746.5]]],
    [1174.3, 'MSIsensor score', 1159, 770, 782, ['#3f9cc8', '#78c8c8', '#b4e4cc', '#eef6e6'], [['30', 1196, 791.5], ['0', 1196, 845]]],
    [1174.3, 'AJCC stage', 1177, 879, 890, ['#a2c000', '#10d0b0', '#ff70f0', '#ff9a60'], [['I', 1197, 899], ['II', 1197, 918.7], ['III', 1197, 936], ['IV', 1197, 956]]],
    [1174.3, 'T stage', 1180, 1003, 1013, ['#d89ee8', '#ff78c0', '#10d0c0', '#d0b000', '#10c8f0'], [['T1', 1198, 1022.6], ['T2', 1198, 1041], ['T3', 1198, 1061], ['T4', 1198, 1078.8], ['TX', 1197, 1096]]],
    [1174.3, 'N stage', 1177.5, 1122, 1132, ['#ff9a40', '#ff78a8', '#10c8f8', '#10d090'], [['N0', 1196, 1142], ['N1', 1196, 1159], ['N2', 1196, 1179], ['N3', 1196, 1196]]],
    [1174.3, 'M stage', 1177, 1222, 1231.5, ['#f070d8', '#f090f0'], [['M0', 1196, 1241], ['M1', 1196, 1260]]],
    [1445.7, 'Age (years)', 1449, 640, 654.8, ['#8a55b0', '#8a98cc', '#b8cce8', '#eef6f8'], [['90', 1467.3, 663.7], ['30', 1467.3, 719.4]]],
    [1445.7, 'PR status', 1447.3, 743.7, 754, ['#b4a8f8', '#e0b010', '#ff70e8', '#10d060'], [['Indeterminate', 1467.3, 779.3], ['Negative', 1467.3, 800], ['Positive', 1467.3, 820]]],
    [1445.7, 'ER status', 1447.3, 843.4, 854, ['#98c810', '#20c0ff', '#88b8f8', '#10d8f0'], [['Indeterminate', 1467.3, 880.8], ['Negative', 1467.3, 901], ['Positive', 1467.3, 921]]],
    [1445.7, 'HER2 status', 1446.3, 944.5, 953.5, ['#f8a810', '#10d080'], [['Negative', 1467.3, 962.7], ['Positive', 1467.3, 982.8]]],
    [1445.7, 'Risk', 1446.3, 1005.8, 1017, ['#e80010', '#0a70b8'], [['High', 1467.3, 1028], ['Low', 1467.3, 1047]]],
    [1445.7, 'Risk score', 1449, 1070.4, 1081, ['#30a068', '#68c0a0', '#b0e0d8', '#e8f8f8'], [['30', 1466.7, 1089.5], ['5', 1466.7, 1144.8]]]
  ];
  blocks.forEach(b => {
    const t = txt(lg, b[2], b[3] - 2, b[1], 17, {});
    
    
    b[5].forEach((color, i) => {
      const s = mk('rect', { x: b[0], y: b[4] + i * 18.2, width: 18, height: 18.4, fill: color, 'shape-rendering': 'crispEdges' }, lg);
      
      
    });
    b[6].forEach(e => {
      const l = txt(lg, e[1], e[2] - 1.5, e[0], 16.5, {});
      
      
    });
  });
})();

/* ---------- Panel E ---------- */
const kmPanels = [
  { gene: 'ALOX15B', axisX: 119, x0: 134.3, x25: 455, y1: 1396.7, y0: 1677.4, axisY: 1690, pValue: 'P<0.001', pX: 138, pY: 1629, titleX: 300, titleY: 1751, yTitleX: 42, yTitleY: 1526,
    legendY: 1343, legendTop: 1330.7, nameX: 140, redX: 245.3, highX: 278.3, blueX: 339, lowX: 365.7,
    high: [alox15bHighCurve, alox15bHighUpper, alox15bHighLower, alox15bHighCensor, 9.5], low: [alox15bLowCurve, alox15bLowUpper, alox15bLowLower, alox15bLowCensor, 4.5] },
  { gene: 'CD24', axisX: 632, x0: 648.5, x25: 969.3, y1: 1397, y0: 1677.7, axisY: 1691.7, pValue: 'P=0.003', pX: 655.5, pY: 1630.7, titleX: 815, titleY: 1752, yTitleX: 557, yTitleY: 1526,
    legendY: 1344, legendTop: 1332, nameX: 687.3, redX: 744, highX: 774.7, blueX: 840, lowX: 872.3,
    high: [cd24HighCurve, cd24HighUpper, cd24HighLower, cd24HighCensor, 3.8], low: [cd24LowCurve, cd24LowUpper, cd24LowLower, cd24LowCensor, 9.5] },
  { gene: 'CXCL9', axisX: 1146, x0: 1162, x25: 1481, y1: 1396.7, y0: 1676.7, axisY: 1690, pValue: 'P=0.003', pX: 1167, pY: 1630.7, titleX: 1326.7, titleY: 1751, yTitleX: 1070.5, yTitleY: 1526,
    legendY: 1343, legendTop: 1330.7, nameX: 1190, redX: 1263.3, highX: 1297.3, blueX: 1357, lowX: 1389,
    high: [cxcl9HighCurve, cxcl9HighUpper, cxcl9HighLower, cxcl9HighCensor, 9.4], low: [cxcl9LowCurve, cxcl9LowUpper, cxcl9LowLower, cxcl9LowCensor, 9.4] },
  { gene: 'ELOVL2', axisX: 1654.7, x0: 1670.7, x25: 1991.5, y1: 1400, y0: 1680, axisY: 1694, pValue: 'P<0.001', pX: 1675, pY: 1630.7, titleX: 1838, titleY: 1755, yTitleX: 1576, yTitleY: 1529,
    legendY: 1348, legendTop: 1335, nameX: 1693.3, redX: 1776, highX: 1811.7, blueX: 1870, lowX: 1898.3,
    high: [elovl2HighCurve, elovl2HighUpper, elovl2HighLower, elovl2HighCensor, 9.5], low: [elovl2LowCurve, elovl2LowUpper, elovl2LowLower, elovl2LowCensor, 8.6] },
  { gene: 'ETFA', axisX: 125, x0: 140.3, x25: 462.7, y1: 1852.7, y0: 2133, axisY: 2146.7, pValue: 'P<0.001', pX: 147.5, pY: 2083, titleX: 307, titleY: 2208, yTitleX: 48, yTitleY: 1980,
    legendY: 1798.3, legendTop: 1786.7, nameX: 173.5, redX: 237, highX: 265.5, blueX: 331, lowX: 355.5,
    high: [etfaHighCurve, etfaHighUpper, etfaHighLower, etfaHighCensor, 9.5], low: [etfaLowCurve, etfaLowUpper, etfaLowLower, etfaLowCensor, 9.5] },
  { gene: 'KRT7', axisX: 634, x0: 650.5, x25: 970.5, y1: 1857.3, y0: 2137.3, axisY: 2150.7, pValue: 'P<0.001', pX: 657, pY: 2088, titleX: 822, titleY: 2215, yTitleX: 558, yTitleY: 1986,
    legendY: 1803.3, legendTop: 1791, nameX: 683.6, redX: 744.4, highX: 778.4, blueX: 840.4, lowX: 871,
    high: [krt7HighCurve, krt7HighUpper, krt7HighLower, krt7HighCensor, 9.5], low: [krt7LowCurve, krt7LowUpper, krt7LowLower, krt7LowCensor, 8.8] },
  { gene: 'PRR15L', axisX: 1152, x0: 1167.5, x25: 1488, y1: 1857.3, y0: 2137.3, axisY: 2151, pValue: 'P=0.014', pX: 1177.8, pY: 2088, titleX: 1332, titleY: 2210, yTitleX: 1076, yTitleY: 1986,
    legendY: 1803.3, legendTop: 1791, nameX: 1187, redX: 1275, highX: 1311, blueX: 1369.5, lowX: 1401.5,
    high: [prr15lHighCurve, prr15lHighUpper, prr15lHighLower, prr15lHighCensor, 9.5], low: [prr15lLowCurve, prr15lLowUpper, prr15lLowLower, prr15lLowCensor, 0] },
  { gene: 'RAPGEFL1', axisX: 1666, x0: 1681.3, x25: 2003.7, y1: 1857.3, y0: 2137.3, axisY: 2151, pValue: 'P=0.004', pX: 1686, pY: 2088, titleX: 1845, titleY: 2210, yTitleX: 1590, yTitleY: 1986,
    legendY: 1805, legendTop: 1791.7, nameX: 1681.5, redX: 1799, highX: 1831, blueX: 1893, lowX: 1919,
    high: [rapgefl1HighCurve, rapgefl1HighUpper, rapgefl1HighLower, rapgefl1HighCensor, 9.5], low: [rapgefl1LowCurve, rapgefl1LowUpper, rapgefl1LowLower, rapgefl1LowCensor, 10.8] }
];

function drawKm(p) {
  const g = mk('g', {});
  
  
  const xS = t => p.x0 + t * (p.x25 - p.x0) / 25;
  const yS = s => p.y0 - s * (p.y0 - p.y1);
  const linePath = pts => pts.map((d, i) => (i ? 'L' : 'M') + xS(d[0]).toFixed(1) + ' ' + yS(d[1]).toFixed(1)).join('');
  const interp = (pts, t) => {
    for (let i = 1; i < pts.length; i++) {
      if (t <= pts[i][0]) {
        const a = pts[i - 1], b = pts[i];
        const f = b[0] === a[0] ? 1 : (t - a[0]) / (b[0] - a[0]);
        return a[1] + (b[1] - a[1]) * f;
      }
    }
    return pts[pts.length - 1][1];
  };
  const drawBand = (s, color) => {
    const rev = s[2].slice().reverse();
    const d = linePath(s[1]) + rev.map(q => 'L' + xS(q[0]).toFixed(1) + ' ' + yS(q[1]).toFixed(1)).join('') + 'Z';
    const band = mk('path', { d: d, fill: color, 'fill-opacity': 0.3 }, g);
    
    
  };
  const drawCurve = (s, color) => {
    const line = mk('path', { d: linePath(s[0]), fill: 'none', stroke: color, 'stroke-width': 2.7, 'stroke-linejoin': 'round' }, g);
    
    
    const times = censorDense.concat(censorDenseExtra).filter(t => t <= s[4]).concat(s[3]);
    let d = '';
    times.forEach(t => {
      const x = xS(t), y = yS(interp(s[0], t));
      d += 'M' + (x - 5).toFixed(1) + ' ' + y.toFixed(1) + 'h10M' + x.toFixed(1) + ' ' + (y - 5).toFixed(1) + 'v10';
    });
    const marks = mk('path', { d: d, fill: 'none', stroke: color, 'stroke-width': 1.5 }, g);
    
    
  };
  drawBand(p.high, '#ff0000');
  drawBand(p.low, '#0000ff');
  drawCurve(p.high, '#f80000');
  drawCurve(p.low, '#0000e0');

  const ya = mk('line', { x1: p.axisX, x2: p.axisX, y1: p.y1 - 13, y2: p.axisY + 1, stroke: '#222', 'stroke-width': 1.8 }, g);
  
  
  const xa = mk('line', { x1: p.axisX, x2: p.x25 + 15, y1: p.axisY, y2: p.axisY, stroke: '#222', 'stroke-width': 1.8 }, g);
  
  
  kmYTicks.forEach((v, i) => {
    const tk = mk('line', { x1: p.axisX - 4.5, x2: p.axisX, y1: yS(v), y2: yS(v), stroke: '#222', 'stroke-width': 1.6 }, g);
    
    
    const lb = txt(g, p.axisX - 14, yS(v) + 1, kmYTickLabels[i], 22, { anchor: 'end' });
    
    
  });
  kmXTicks.forEach(v => {
    const tk = mk('line', { x1: xS(v), x2: xS(v), y1: p.axisY, y2: p.axisY + 4.5, stroke: '#222', 'stroke-width': 1.6 }, g);
    
    
    const lb = txt(g, xS(v) + 1, p.axisY + 31, String(v), 22, { anchor: 'middle', center: false });
    
    
  });
  const xt = txt(g, p.titleX, p.titleY - 1, 'Time (years)', 25, { anchor: 'middle', center: false });
  
  
  const yt = txt(g, p.yTitleX, p.yTitleY, 'Survival probability', 25, { anchor: 'middle', center: false, rotate: -90 });
  
  
  const pv = txt(g, p.pX, p.pY, p.pValue, 20.4, { center: false });
  
  

  const nm = txt(g, p.nameX, p.legendY, p.gene, 21, {});
  
  
  const keyH = 23;
  const keyW = 23.4;
  const redKey = mk('rect', { x: p.redX, y: p.legendTop, width: keyW, height: keyH, fill: '#ff0000', 'fill-opacity': 0.3 }, g);
  
  
  const blueKey = mk('rect', { x: p.blueX, y: p.legendTop, width: keyW, height: keyH, fill: '#0000ff', 'fill-opacity': 0.3 }, g);
  
  
  const cy = p.legendTop + keyH / 2;
  const redLine = mk('path', { d: 'M' + (p.redX + 1) + ' ' + cy + 'h' + (keyW - 2) + 'M' + (p.redX + keyW / 2) + ' ' + (cy - 5) + 'v10', stroke: '#f80000', 'stroke-width': 2.4, fill: 'none' }, g);
  
  
  const blueLine = mk('path', { d: 'M' + (p.blueX + 1) + ' ' + cy + 'h' + (keyW - 2) + 'M' + (p.blueX + keyW / 2) + ' ' + (cy - 5) + 'v10', stroke: '#0000e0', 'stroke-width': 2.4, fill: 'none' }, g);
  
  
  const hi = txt(g, p.highX, p.legendY, 'High', 21, {});
  
  
  const lo = txt(g, p.lowX, p.legendY, 'Low', 21, {});
  
  
}
kmPanels.forEach(drawKm);
</script>
</body>
</html>
